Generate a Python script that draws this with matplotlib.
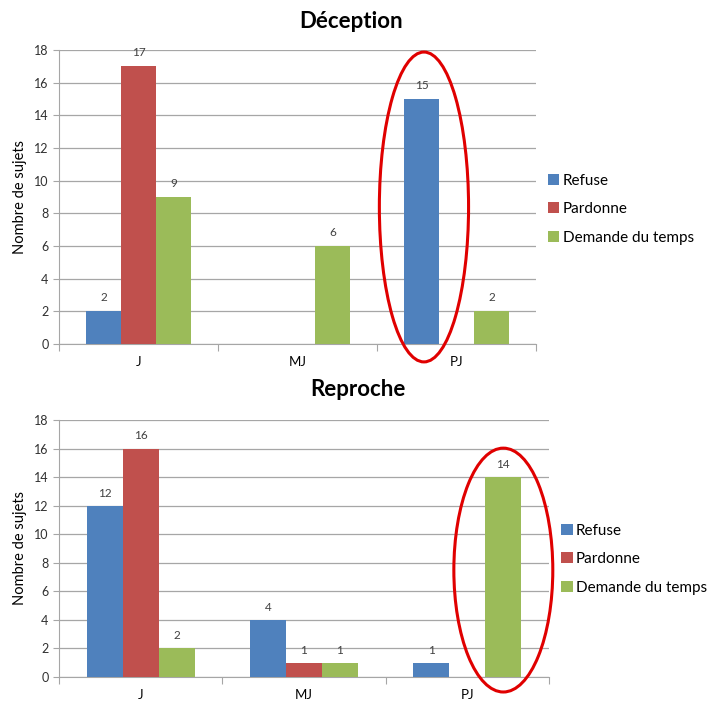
import matplotlib
matplotlib.use("Agg")
import matplotlib.pyplot as plt
from matplotlib.patches import Ellipse
import numpy as np

plt.rcParams['font.family'] = ['Lato', 'DejaVu Sans']

categories = ["J", "MJ", "PJ"]
series_names = ["Refuse", "Pardonne", "Demande du temps"]
colors = ["#4F81BD", "#C0504D", "#9BBB59"]

deception_refuse = [2, 0, 15]
deception_pardonne = [17, 0, 0]
deception_temps = [9, 6, 2]

reproche_refuse = [12, 4, 1]
reproche_pardonne = [16, 1, 0]
reproche_temps = [2, 1, 14]

yticks = [0, 2, 4, 6, 8, 10, 12, 14, 16, 18]

fig = plt.figure(figsize=(7.12, 7.04), dpi=100)

def draw(ax, title, data, ell, legend_y, title_x, title_pad):
    x = np.arange(len(categories))
    w = 0.22
    for i, (vals, c, name) in enumerate(zip(data, colors, series_names)):
        pos = x + (i - 1) * w
        ax.bar(pos, vals, width=w, color=c, label=name, zorder=3)
        for p, v in zip(pos, vals):
            if v > 0:
                ax.text(p, v + 0.5, str(v), ha='center', va='bottom',
                        fontsize=8.5, color='#404040')
    ax.set_xlim(-0.5, 2.5)
    ax.set_ylim(0, 18)
    ax.set_yticks(yticks)
    ax.yaxis.grid(True, color='#A6A6A6', linewidth=0.9, zorder=0)
    ax.set_axisbelow(True)
    ax.set_xticks([-0.5, 0.5, 1.5, 2.5])
    ax.set_xticklabels([])
    ax.set_xticks(x, minor=True)
    ax.set_xticklabels(categories, minor=True, fontsize=9.5)
    ax.tick_params(axis='x', which='minor', length=0, pad=9)
    ax.tick_params(axis='x', which='major', length=5, color='#A6A6A6', direction='out')
    ax.tick_params(axis='y', length=4, color='#A6A6A6', labelsize=9, labelcolor='#303030')
    for s in ['top', 'right']:
        ax.spines[s].set_visible(False)
    for s in ['left', 'bottom']:
        ax.spines[s].set_color('#A6A6A6')
    ax.set_ylabel("Nombre de sujets", fontsize=10.5, labelpad=5)
    ax.set_title(title, fontsize=16, fontweight='bold', pad=title_pad, x=title_x)
    ax.legend(loc='center left', bbox_to_anchor=(1.025, legend_y), frameon=False,
              fontsize=11, handlelength=0.75, handleheight=0.75, handletextpad=0.2,
              labelspacing=0.95, borderaxespad=0.0, borderpad=0.0)
    e = Ellipse((ell[0], ell[1]), ell[2], ell[3], transform=ax.transAxes,
                fill=False, edgecolor='#E00000', linewidth=2.2, clip_on=False, zorder=5)
    ax.add_patch(e)

ax1 = fig.add_axes([0.0829, 0.5114, 0.670, 0.4176])
draw(ax1, "Déception", [deception_refuse, deception_pardonne, deception_temps],
     (0.765, 0.466, 0.187, 1.054), 0.459, 0.612, 15.5)

ax2 = fig.add_axes([0.0829, 0.0384, 0.688, 0.365])
draw(ax2, "Reproche", [reproche_refuse, reproche_pardonne, reproche_temps],
     (0.907, 0.416, 0.202, 0.949), 0.459, 0.61, 17)

fig.savefig("out.png", dpi=100)
